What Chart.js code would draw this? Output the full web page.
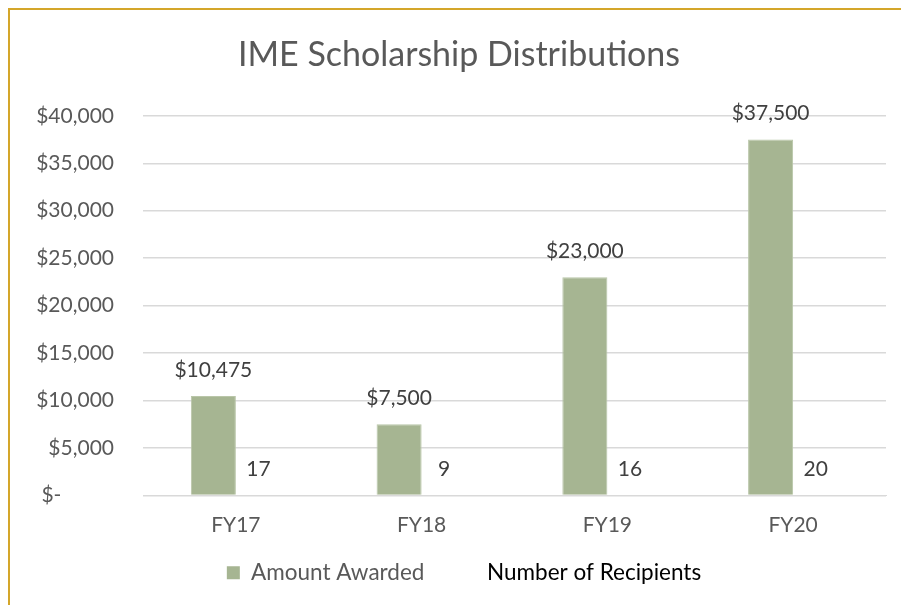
<!DOCTYPE html>
<html>
<head>
<meta charset="utf-8">
<script src="https://cdn.jsdelivr.net/npm/chart.js@4"></script>
<style>
  html, body { margin: 0; padding: 0; background: #fff; }
  #wrap { width: 901px; height: 605px; position: relative; }
</style>
</head>
<body>
<div id="wrap"><canvas id="chart" width="901" height="605"></canvas></div>
<script>
const categories = ['FY17', 'FY18', 'FY19', 'FY20'];
const amountAwarded = [10475, 7500, 23000, 37500];
const recipients = [17, 9, 16, 20];
const yTicks = [0, 5000, 10000, 15000, 20000, 25000, 30000, 35000, 40000];
const seriesNames = ['Amount Awarded', 'Number of Recipients'];

const FONT = 'Lato, "Open Sans", sans-serif';
const GREY = '#595959';

function money(v) {
  if (v === 0) return '$- \u2003\u2003\u2003';
  return '$' + v.toLocaleString('en-US');
}

// gold frame along top and left edge
const framePlugin = {
  id: 'frame',
  beforeDraw(chart) {
    const ctx = chart.ctx;
    ctx.save();
    ctx.fillStyle = '#fff';
    ctx.fillRect(0, 0, chart.width, chart.height);
    ctx.strokeStyle = '#D4A62A';
    ctx.lineWidth = 2;
    ctx.beginPath();
    ctx.moveTo(9, chart.height);
    ctx.lineTo(9, 9);
    ctx.lineTo(chart.width, 9);
    ctx.stroke();
    ctx.restore();
  }
};

// title and legend sit a bit right of centre in the original
const nudgePlugin = {
  id: 'nudge',
  afterLayout(chart) {
    chart.titleBlock.left += 6;
    chart.titleBlock.right += 6;
    chart.legend.left += 11;
    chart.legend.right += 11;
  }
};

// value labels above each bar
const labelPlugin = {
  id: 'barLabels',
  afterDatasetsDraw(chart) {
    const ctx = chart.ctx;
    ctx.save();
    ctx.font = '21px ' + FONT;
    ctx.textAlign = 'center';
    ctx.textBaseline = 'middle';
    chart.data.datasets.forEach((ds, i) => {
      chart.getDatasetMeta(i).data.forEach((bar, j) => {
        const v = ds.data[j];
        ctx.fillStyle = '#404040';
        ctx.fillText(i === 0 ? money(v) : String(v), bar.x, bar.y - 26);
      });
    });
    ctx.restore();
  }
};

new Chart(document.getElementById('chart'), {
  type: 'bar',
  data: {
    labels: categories,
    datasets: [
      {
        label: seriesNames[0],
        data: amountAwarded,
        backgroundColor: '#A6B592',
        borderColor: '#B9C6A8',
        borderWidth: 1,
        categoryPercentage: 0.485,
        barPercentage: 1
      },
      {
        label: seriesNames[1],
        data: recipients,
        backgroundColor: 'rgba(0,0,0,0)',
        borderWidth: 0,
        categoryPercentage: 0.485,
        barPercentage: 1
      }
    ]
  },
  options: {
    responsive: false,
    animation: false,
    layout: { padding: { top: 35, right: 15, bottom: 11, left: 20 } },
    scales: {
      x: {
        grid: { display: false },
        border: { color: '#D9D9D9' },
        afterFit(scale) { scale.height = 56; },
        ticks: { color: GREY, font: { family: FONT, size: 21 }, padding: 9 }
      },
      y: {
        min: 0,
        max: 40000,
        afterBuildTicks(scale) {
          scale.ticks = yTicks.map(v => ({ value: v }));
        },
        afterFit(scale) { scale.width = 123; },
        grid: { color: '#D9D9D9', lineWidth: 1.5, drawTicks: false },
        border: { display: false },
        ticks: {
          color: GREY,
          font: { family: FONT, size: 21 },
          padding: 29,
          callback: v => money(v)
        }
      }
    },
    plugins: {
      title: {
        display: true,
        text: 'IME Scholarship Distributions',
        color: GREY,
        font: { family: FONT, size: 34, weight: 'normal' },
        padding: { top: 0, bottom: 40 }
      },
      legend: {
        position: 'bottom',
        labels: {
          font: { family: FONT, size: 22.5 },
          boxWidth: 13,
          boxHeight: 13,
          padding: 10,
          generateLabels(chart) {
            return chart.data.datasets.map((ds, i) => ({
              text: i === 0 ? ds.label : '\u2003  ' + ds.label,
              fillStyle: ds.backgroundColor,
              strokeStyle: 'rgba(0,0,0,0)',
              lineWidth: 0,
              fontColor: i === 0 ? GREY : '#000',
              datasetIndex: i
            }));
          }
        }
      },
      tooltip: { enabled: false }
    }
  },
  plugins: [framePlugin, nudgePlugin, labelPlugin]
});
</script>
</body>
</html>
